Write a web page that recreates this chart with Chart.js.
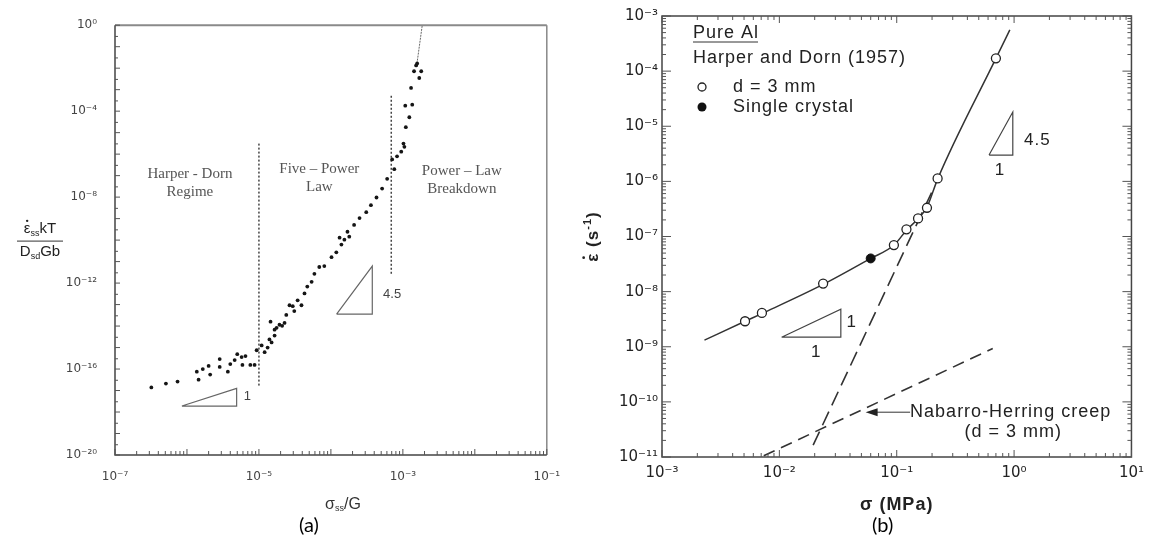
<!DOCTYPE html>
<html><head><meta charset="utf-8">
<script src="https://cdn.jsdelivr.net/npm/chart.js@4.4.0/dist/chart.umd.min.js"></script>
<style>
html,body{margin:0;padding:0;background:#fff;width:1151px;height:546px;overflow:hidden;position:relative}
#wa{position:absolute;left:0;top:0;width:575px;height:546px}
#wb{position:absolute;left:575px;top:0;width:576px;height:546px}
.cap{position:absolute;top:512px;font:20px Lato,'Open Sans',sans-serif;color:#000;line-height:24px}
</style></head><body>
<div id="wa"><canvas id="ca" width="575" height="546"></canvas></div>
<div id="wb"><canvas id="cb" width="576" height="546"></canvas></div>
<div class="cap" style="left:299px">(a)</div>
<div class="cap" style="left:872px">(b)</div>
<script>
// ---------- Panel (a) data: normalized creep rate vs normalized stress ----------
const aStress = [3.2e-7,5.1e-7,7.4e-7,1.37e-6,1.45e-6,1.66e-6,2.1e-6,2.0e-6,2.85e-6,2.85e-6,
  3.7e-6,4.0e-6,4.6e-6,5.0e-6,5.75e-6,6.5e-6,5.9e-6,7.6e-6,8.7e-6,9.3e-6,
  1.09e-5,1.2e-5,1.32e-5,1.5e-5,1.4e-5,1.65e-5,1.65e-5,1.76e-5,1.45e-5,1.93e-5,
  2.1e-5,2.27e-5,2.4e-5,2.66e-5,3.1e-5,2.95e-5,3.45e-5,3.9e-5,4.3e-5,4.7e-5,
  5.4e-5,5.9e-5,6.9e-5,8.1e-5,1.02e-4,1.19e-4,1.4e-4,1.54e-4,1.8e-4,1.32e-4,
  1.7e-4,2.1e-4,2.5e-4,3.1e-4,3.6e-4,4.3e-4,5.15e-4,6.05e-4,7.6e-4,7.1e-4,
  8.3e-4,9.5e-4,1.05e-3,1.02e-3,1.1e-3,1.23e-3,1.08e-3,1.35e-3,1.3e-3,1.43e-3,
  1.53e-3,1.69e-3,1.8e-3,1.58e-3];
const aRate = [1.4e-17,2.1e-17,2.6e-17,7.5e-17,3.2e-17,1.0e-16,5.5e-17,1.4e-16,2.9e-16,1.26e-16,
  7.5e-17,1.7e-16,2.6e-16,4.9e-16,3.6e-16,4.0e-16,1.55e-16,1.55e-16,1.55e-16,7.5e-16,
  1.26e-15,6.1e-16,1.0e-15,1.74e-15,2.4e-15,3.6e-15,6.8e-15,8.3e-15,1.6e-14,1.15e-14,
  1.03e-14,1.4e-14,3.3e-14,9.3e-14,5.0e-14,8.4e-14,1.58e-13,9.3e-14,3.3e-13,6.9e-13,
  1.15e-12,2.7e-12,5.6e-12,6.2e-12,1.6e-11,2.7e-11,6.2e-11,1.05e-10,1.45e-10,1.3e-10,
  2.45e-10,5.1e-10,1.06e-9,2.0e-9,4.2e-9,9.6e-9,2.5e-8,7.1e-8,2.0e-7,5.7e-7,
  7.9e-7,1.3e-6,2.2e-6,3.1e-6,1.8e-5,5.2e-5,1.8e-4,2.0e-4,1.2e-3,7.2e-3,
  1.35e-2,3.5e-3,7.2e-3,1.67e-2];
const aCurveStress = [1.55e-3, 1.86e-3];
const aCurveRate = [1.2e-2, 1];
const aBoundaryStress = [1e-5, 6.9e-4];
const aBoundaryTop = [3.1e-6, 5.2e-4];
const aBoundaryBottom = [1.5e-17, 2.7e-12];
const aTri1Stress = [8.5e-7, 4.9e-6, 4.9e-6, 8.5e-7];
const aTri1Rate = [1.9e-18, 1.9e-18, 1.26e-17, 1.9e-18];
const aTri2Stress = [1.2e-4, 3.76e-4, 3.76e-4, 1.2e-4];
const aTri2Rate = [3.6e-14, 3.6e-14, 6.2e-12, 3.6e-14];
const aXTickExps = [-7, -5, -3, -1];
const aYTickExps = [-20, -16, -12, -8, -4, 0];
const aRegions = [
  {lines: ['Harper - Dorn', 'Regime'], x: 1.1e-6, y: 1.2e-7},
  {lines: ['Five \u2013 Power', 'Law'], x: 6.9e-5, y: 2.0e-7},
  {lines: ['Power \u2013 Law', 'Breakdown'], x: 6.6e-3, y: 1.6e-7}
];
const aSlopeLabels = [{t: '1', x: 6.9e-6, y: 5.4e-18}, {t: '4.5', x: 7.1e-4, y: 2.95e-13}];

// ---------- Panel (b) data: Pure Al, Harper and Dorn (1957) ----------
const bStress = [0.0051, 0.0071, 0.0236, 0.0946, 0.121, 0.152, 0.181, 0.223, 0.70];
const bRate = [2.9e-9, 4.1e-9, 1.4e-8, 6.98e-8, 1.35e-7, 2.13e-7, 3.32e-7, 1.13e-6, 1.71e-4];
const bSingleStress = [0.060];
const bSingleRate = [4.0e-8];
const bFitStress = [0.0023, 0.0051, 0.0071, 0.0236, 0.060, 0.095, 0.121, 0.152, 0.181, 0.223, 0.70, 0.92];
const bFitRate = [1.32e-9, 2.9e-9, 4.0e-9, 1.35e-8, 4.0e-8, 7.0e-8, 1.3e-7, 2.1e-7, 3.4e-7, 1.1e-6, 1.7e-4, 5.6e-4];
const bPowerStress = [0.0194, 0.199];
const bPowerRate = [1.64e-11, 6.4e-7];
const bNHStress = [0.00736, 0.658];
const bNHRate = [1.05e-11, 9.3e-10];
const bArrowStress = [0.13, 0.0543];
const bArrowRate = [6.5e-11, 6.5e-11];
const bTri1Stress = [0.01045, 0.0334, 0.0334, 0.01045];
const bTri1Rate = [1.49e-9, 1.49e-9, 4.8e-9, 1.49e-9];
const bTri2Stress = [0.612, 0.975, 0.975, 0.612];
const bTri2Rate = [3.0e-6, 3.0e-6, 1.81e-5, 3.0e-6];
const bXTickExps = [-3, -2, -1, 0, 1];
const bYTickExps = [-11, -10, -9, -8, -7, -6, -5, -4, -3];
const bSlopeLabels = [{t: '1', x: 0.0414, y: 2.8e-9}, {t: '1', x: 0.0206, y: 8.0e-10},
  {t: '4.5', x: 1.58, y: 5.6e-6}, {t: '1', x: 0.76, y: 1.6e-6}];
const bNHLabels = [{t: 'Nabarro-Herring creep', x: 0.13, y: 6.5e-11}, {t: '(d = 3 mm)', x: 0.378, y: 2.8e-11}];

// ---------- helpers ----------
const SUP = {'-': '\u207B', '0': '\u2070', '1': '\u00B9', '2': '\u00B2', '3': '\u00B3', '4': '\u2074',
  '5': '\u2075', '6': '\u2076', '7': '\u2077', '8': '\u2078', '9': '\u2079'};
const pow10Label = e => '10' + String(e).split('').map(c => SUP[c]).join('');
const pts = (xs, ys) => xs.map((x, i) => ({x: x, y: ys[i]}));
const SANS = "'Liberation Sans', Arial, sans-serif";
const TICKF = "'DejaVu Sans', sans-serif";
const SERIF = "'Liberation Serif', 'Times New Roman', serif";

function drawRich(ctx, parts, x, y, o) {
  ctx.save();
  ctx.fillStyle = o.color || '#222';
  ctx.textBaseline = 'middle';
  ctx.textAlign = 'left';
  ctx.letterSpacing = (o.spacing || 0) + 'px';
  let w = 0;
  parts.forEach(p => { ctx.font = (o.weight || 'normal') + ' ' + p.s + 'px ' + (o.family || SANS); p.w = ctx.measureText(p.t).width; w += p.w; });
  let cx = o.align === 'left' ? x : (o.align === 'right' ? x - w : x - w / 2);
  parts.forEach(p => {
    ctx.font = (o.weight || 'normal') + ' ' + p.s + 'px ' + (o.family || SANS);
    ctx.fillText(p.t, cx, y + (p.dy || 0));
    if (p.dot) {
      const gw = p.w - (o.spacing || 0);
      ctx.beginPath(); ctx.arc(cx + gw / 2, y + (p.dy || 0) - p.s * 0.55, p.s * 0.08, 0, Math.PI * 2); ctx.fill();
    }
    cx += p.w;
  });
  ctx.restore();
  return w;
}

function logTicks(ctx, scale, area, side, minors, lenMajor, lenMinor) {
  const lo = Math.log10(scale.min), hi = Math.log10(scale.max);
  ctx.beginPath();
  for (let e = Math.floor(lo); e <= Math.ceil(hi); e++) {
    minors.forEach(m => {
      const v = m * Math.pow(10, e);
      const lv = Math.log10(v);
      if (lv < lo - 1e-9 || lv > hi + 1e-9) return;
      const p = scale.getPixelForValue(v);
      const len = m === 1 ? lenMajor : lenMinor;
      if (side === 'bottom') { ctx.moveTo(p, area.bottom); ctx.lineTo(p, area.bottom - len); }
      if (side === 'top') { ctx.moveTo(p, area.top); ctx.lineTo(p, area.top + len); }
      if (side === 'left') { ctx.moveTo(area.left, p); ctx.lineTo(area.left + len, p); }
      if (side === 'right') { ctx.moveTo(area.right, p); ctx.lineTo(area.right - len, p); }
    });
  }
  ctx.stroke();
}

// ---------- Panel (a) ----------
const decorA = {
  id: 'decorA',
  afterDraw(chart) {
    const ctx = chart.ctx, a = chart.chartArea, xs = chart.scales.x, ys = chart.scales.y;
    ctx.save();
    ctx.lineWidth = 2; ctx.strokeStyle = '#8a8a8a';
    ctx.beginPath(); ctx.moveTo(a.left, a.top); ctx.lineTo(a.right, a.top); ctx.stroke();
    ctx.lineWidth = 1.5; ctx.strokeStyle = '#888';
    ctx.beginPath(); ctx.moveTo(a.right, a.top); ctx.lineTo(a.right, a.bottom); ctx.stroke();
    ctx.strokeStyle = '#444';
    ctx.beginPath(); ctx.moveTo(a.left, a.top); ctx.lineTo(a.left, a.bottom); ctx.lineTo(a.right, a.bottom); ctx.stroke();
    ctx.lineWidth = 1; ctx.strokeStyle = '#555';
    logTicks(ctx, xs, a, 'bottom', [1, 2, 3, 4, 5, 6, 7, 8, 9], 6, 4);
    logTicks(ctx, ys, a, 'left', [1, 3], 5, 3);
    aRegions.forEach(r => {
      const px = xs.getPixelForValue(r.x), py = ys.getPixelForValue(r.y);
      r.lines.forEach((t, i) => drawRich(ctx, [{t: t, s: 15}], px, py + i * 18, {family: SERIF, color: '#555'}));
    });
    aSlopeLabels.forEach(l => drawRich(ctx, [{t: l.t, s: 13}], xs.getPixelForValue(l.x), ys.getPixelForValue(l.y), {color: '#444'}));
    const cy = (a.top + a.bottom) / 2;
    drawRich(ctx, [{t: '\u03B5', s: 15, dot: true}, {t: 'ss', s: 9, dy: 4}, {t: 'kT', s: 15}], 40, cy - 11, {color: '#222'});
    ctx.lineWidth = 1; ctx.strokeStyle = '#333';
    ctx.beginPath(); ctx.moveTo(17, cy + 1); ctx.lineTo(63, cy + 1); ctx.stroke();
    drawRich(ctx, [{t: 'D', s: 15}, {t: 'sd', s: 9, dy: 4}, {t: 'Gb', s: 15}], 40, cy + 12, {color: '#222'});
    drawRich(ctx, [{t: '\u03C3', s: 16}, {t: 'ss', s: 9, dy: 4}, {t: '/G', s: 16}], 343, 505, {color: '#333'});
    ctx.restore();
  }
};

new Chart(document.getElementById('ca'), {
  type: 'scatter',
  data: {datasets: [
    {label: 'Data', data: pts(aStress, aRate), pointRadius: 1.9, pointBackgroundColor: '#151515', pointBorderWidth: 0, showLine: false, order: 0},
    {label: 'Breakdown curve', data: pts(aCurveStress, aCurveRate), showLine: true, borderColor: '#666', borderWidth: 1, borderDash: [2, 1], pointRadius: 0, order: 1},
    {label: 'Boundary 1', data: pts([aBoundaryStress[0], aBoundaryStress[0]], [aBoundaryTop[0], aBoundaryBottom[0]]), showLine: true, borderColor: '#444', borderWidth: 1.5, borderDash: [2, 2], pointRadius: 0, order: 2},
    {label: 'Boundary 2', data: pts([aBoundaryStress[1], aBoundaryStress[1]], [aBoundaryTop[1], aBoundaryBottom[1]]), showLine: true, borderColor: '#444', borderWidth: 1.5, borderDash: [2, 2], pointRadius: 0, order: 2},
    {label: 'Slope 1', data: pts(aTri1Stress, aTri1Rate), showLine: true, borderColor: '#666', borderWidth: 1.2, pointRadius: 0, order: 3},
    {label: 'Slope 4.5', data: pts(aTri2Stress, aTri2Rate), showLine: true, borderColor: '#666', borderWidth: 1.2, pointRadius: 0, order: 3}
  ]},
  options: {
    responsive: false, animation: false, devicePixelRatio: 1,
    layout: {padding: {left: 0, right: 27, top: 16, bottom: 0}},
    plugins: {legend: {display: false}, tooltip: {enabled: false}},
    scales: {
      x: {type: 'logarithmic', position: 'bottom', min: 1e-7, max: 1e-1,
        grid: {display: false, drawTicks: false}, border: {display: false},
        afterBuildTicks: s => { s.ticks = aXTickExps.map(e => ({value: Math.pow(10, e)})); },
        afterFit: s => { s.height = 91; },
        ticks: {autoSkip: false, maxRotation: 0, padding: 15, color: '#444', font: {family: TICKF, size: 12},
          callback: v => pow10Label(Math.round(Math.log10(v)))}},
      y: {type: 'logarithmic', position: 'left', min: 1e-20, max: 1,
        grid: {display: false, drawTicks: false}, border: {display: false},
        afterBuildTicks: s => { s.ticks = aYTickExps.map(e => ({value: Math.pow(10, e)})); },
        afterFit: s => { s.width = 115; },
        ticks: {autoSkip: false, padding: 18, color: '#444', font: {family: TICKF, size: 12},
          callback: v => pow10Label(Math.round(Math.log10(v)))}}
    }
  },
  plugins: [decorA]
});

// ---------- Panel (b) ----------
const decorB = {
  id: 'decorB',
  afterDraw(chart) {
    const ctx = chart.ctx, a = chart.chartArea, xs = chart.scales.x, ys = chart.scales.y;
    ctx.save();
    ctx.lineWidth = 1.5; ctx.strokeStyle = '#444';
    ctx.strokeRect(a.left, a.top, a.right - a.left, a.bottom - a.top);
    ctx.lineWidth = 1; ctx.strokeStyle = '#555';
    const all = [1, 2, 3, 4, 5, 6, 7, 8, 9];
    logTicks(ctx, xs, a, 'bottom', all, 7, 4);
    logTicks(ctx, xs, a, 'top', all, 7, 4);
    logTicks(ctx, ys, a, 'left', all, 9, 4);
    logTicks(ctx, ys, a, 'right', all, 9, 4);
    const x0 = xs.getPixelForValue(bArrowStress[0]), x1 = xs.getPixelForValue(bArrowStress[1]);
    const y0 = ys.getPixelForValue(bArrowRate[0]), y1 = ys.getPixelForValue(bArrowRate[1]);
    ctx.strokeStyle = '#333'; ctx.lineWidth = 1;
    ctx.beginPath(); ctx.moveTo(x0, y0); ctx.lineTo(x1 + 10, y1); ctx.stroke();
    ctx.fillStyle = '#222';
    ctx.beginPath(); ctx.moveTo(x1, y1); ctx.lineTo(x1 + 12, y1 - 4); ctx.lineTo(x1 + 12, y1 + 4); ctx.closePath(); ctx.fill();
    const T = {color: '#222', spacing: 1};
    bNHLabels.forEach(l => drawRich(ctx, [{t: l.t, s: 18}], xs.getPixelForValue(l.x), ys.getPixelForValue(l.y), Object.assign({align: 'left'}, T)));
    bSlopeLabels.forEach(l => drawRich(ctx, [{t: l.t, s: 17}], xs.getPixelForValue(l.x), ys.getPixelForValue(l.y), T));
    const lx = a.left + 31;
    const w = drawRich(ctx, [{t: 'Pure Al', s: 18}], lx, a.top + 17, Object.assign({align: 'left'}, T));
    ctx.strokeStyle = '#333'; ctx.lineWidth = 1;
    ctx.beginPath(); ctx.moveTo(lx, a.top + 26); ctx.lineTo(lx + w - 1, a.top + 26); ctx.stroke();
    drawRich(ctx, [{t: 'Harper and Dorn (1957)', s: 18}], lx, a.top + 42, Object.assign({align: 'left'}, T));
    ctx.lineWidth = 1.3; ctx.strokeStyle = '#222'; ctx.fillStyle = '#fff';
    ctx.beginPath(); ctx.arc(a.left + 40, a.top + 71, 4, 0, Math.PI * 2); ctx.fill(); ctx.stroke();
    ctx.fillStyle = '#111';
    ctx.beginPath(); ctx.arc(a.left + 40, a.top + 91, 4.5, 0, Math.PI * 2); ctx.fill();
    drawRich(ctx, [{t: 'd = 3 mm', s: 18}], a.left + 71, a.top + 71, Object.assign({align: 'left'}, T));
    drawRich(ctx, [{t: 'Single crystal', s: 18}], a.left + 71, a.top + 91, Object.assign({align: 'left'}, T));
    drawRich(ctx, [{t: '\u03C3 (MPa)', s: 18}], (a.left + a.right) / 2, 505, {color: '#222', weight: 'bold', spacing: 1});
    ctx.save();
    ctx.translate(18, (a.top + a.bottom) / 2);
    ctx.rotate(-Math.PI / 2);
    drawRich(ctx, [{t: '\u03B5', s: 17, dot: true}, {t: ' (s', s: 17}, {t: '-1', s: 11, dy: -5}, {t: ')', s: 17}], 0, 0, {color: '#222', weight: 'bold', spacing: 1});
    ctx.restore();
    ctx.restore();
  }
};

new Chart(document.getElementById('cb'), {
  type: 'scatter',
  data: {datasets: [
    {label: 'd = 3 mm', data: pts(bStress, bRate), pointRadius: 4.5, pointBackgroundColor: '#fff', pointBorderColor: '#222', pointBorderWidth: 1.3, showLine: false, order: 0},
    {label: 'Single crystal', data: pts(bSingleStress, bSingleRate), pointRadius: 4.5, pointBackgroundColor: '#111', pointBorderColor: '#111', pointBorderWidth: 1, showLine: false, order: 0},
    {label: 'Fit', data: pts(bFitStress, bFitRate), showLine: true, borderColor: '#333', borderWidth: 1.5, pointRadius: 0, cubicInterpolationMode: 'monotone', order: 1},
    {label: 'Power law', data: pts(bPowerStress, bPowerRate), showLine: true, borderColor: '#333', borderWidth: 1.6, borderDash: [15, 7], pointRadius: 0, order: 2},
    {label: 'Nabarro-Herring creep', data: pts(bNHStress, bNHRate), showLine: true, borderColor: '#333', borderWidth: 1.6, borderDash: [12, 7], pointRadius: 0, order: 2},
    {label: 'Slope 1', data: pts(bTri1Stress, bTri1Rate), showLine: true, borderColor: '#444', borderWidth: 1.2, pointRadius: 0, order: 3},
    {label: 'Slope 4.5', data: pts(bTri2Stress, bTri2Rate), showLine: true, borderColor: '#444', borderWidth: 1.2, pointRadius: 0, order: 3}
  ]},
  options: {
    responsive: false, animation: false, devicePixelRatio: 1,
    layout: {padding: {left: 0, right: 14, top: 16, bottom: 0}},
    plugins: {legend: {display: false}, tooltip: {enabled: false}},
    scales: {
      x: {type: 'logarithmic', position: 'bottom', min: 1e-3, max: 10,
        grid: {display: false, drawTicks: false}, border: {display: false},
        afterBuildTicks: s => { s.ticks = bXTickExps.map(e => ({value: Math.pow(10, e)})); },
        afterFit: s => { s.height = 89; },
        ticks: {autoSkip: false, maxRotation: 0, padding: 7, color: '#222', font: {family: TICKF, size: 15},
          callback: v => pow10Label(Math.round(Math.log10(v)))}},
      y: {type: 'logarithmic', position: 'left', min: 1e-11, max: 1e-3,
        grid: {display: false, drawTicks: false}, border: {display: false},
        afterBuildTicks: s => { s.ticks = bYTickExps.map(e => ({value: Math.pow(10, e)})); },
        afterFit: s => { s.width = 87; },
        ticks: {autoSkip: false, padding: 4, color: '#222', font: {family: TICKF, size: 15},
          callback: v => pow10Label(Math.round(Math.log10(v)))}}
    }
  },
  plugins: [decorB]
});
</script>
</body></html>
